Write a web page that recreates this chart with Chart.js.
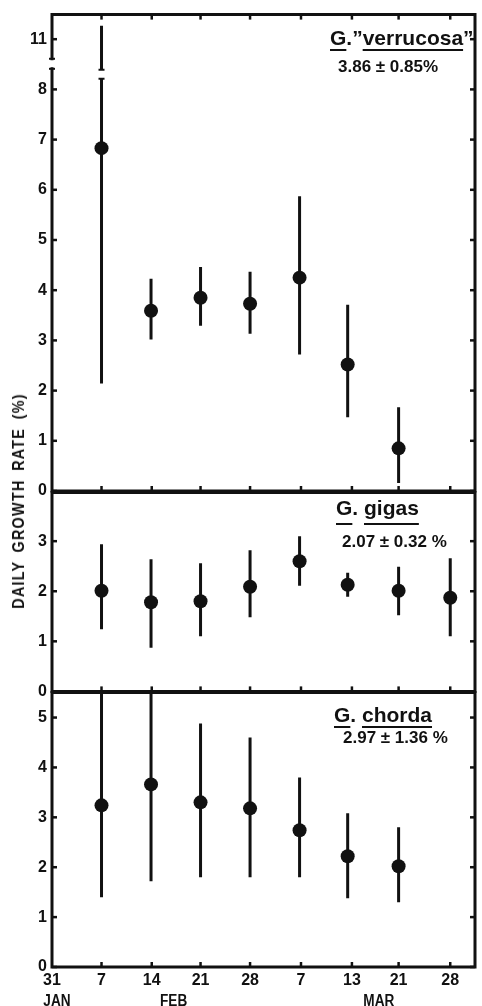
<!DOCTYPE html>
<html lang="en">
<head>
  <meta charset="UTF-8" />
  <title>Daily growth rate - Gracilaria</title>
  <script src="https://cdn.jsdelivr.net/npm/chart.js"></script>
  <style>
    body { margin: 0; background: #fff; }
    .figure { position: relative; width: 482px; height: 1006px; overflow: hidden; }
    .figure canvas { position: absolute; left: 0; }
    #p1 { top: 0; }
    #p2 { top: 478px; }
    #p3 { top: 678px; }
    .ytitle {
      position: absolute; left: 19px; top: 501px;
      font: bold 17px 'Liberation Sans', Arial, sans-serif;
      letter-spacing: 1.4px; word-spacing: 4px;
      white-space: nowrap; color: #111;
      transform: translate(-50%, -50%) rotate(-90deg) scaleX(0.85);
    }
  </style>
</head>
<body>
  <div class="figure">
    <canvas id="p1" width="482" height="506"></canvas>
    <canvas id="p2" width="482" height="228"></canvas>
    <canvas id="p3" width="482" height="328"></canvas>
    <div class="ytitle">DAILY GROWTH RATE (%)</div>
  </div>

  <script>
    const INK = '#111';
    const FONT = "'Liberation Sans', Arial, sans-serif";

    // x axis: days after 31 Jan
    const X_MAX = 59.8;
    const tickDays = [0, 7, 14.1, 21, 28, 35.2, 42.4, 49, 56.3];
    const tickLabels = ['31', '7', '14', '21', '28', '7', '13', '21', '28'];
    const monthLabels = ['JAN', 'FEB', 'MAR'];
    const monthDays = [0.7, 17.2, 46.2];
    const sampleDays = [7, 14, 21, 28, 35, 41.8, 49, 56.3];

    // G. "verrucosa" (axis broken between 8 and 11)
    const verrucosaMean = [6.83, 3.59, 3.85, 3.73, 4.25, 2.52, 0.85];
    const verrucosaLow  = [2.14, 3.02, 3.29, 3.13, 2.72, 1.47, 0.16];
    const verrucosaHigh = [11.27, 4.23, 4.46, 4.37, 5.87, 3.71, 1.67];
    const verrucosaTicks = [0, 1, 2, 3, 4, 5, 6, 7, 8, 11];

    // G. gigas
    const gigasMean = [2.01, 1.78, 1.80, 2.09, 2.60, 2.13, 2.01, 1.87];
    const gigasLow  = [1.24, 0.87, 1.10, 1.48, 2.11, 1.89, 1.52, 1.10];
    const gigasHigh = [2.94, 2.64, 2.56, 2.82, 3.10, 2.37, 2.49, 2.66];
    const gigasTicks = [0, 1, 2, 3];

    // G. chorda
    const chordaMean = [3.24, 3.66, 3.30, 3.18, 2.74, 2.22, 2.02];
    const chordaLow  = [1.40, 1.72, 1.80, 1.80, 1.80, 1.38, 1.30];
    const chordaHigh = [5.60, 5.60, 4.88, 4.60, 3.80, 3.08, 2.80];
    const chordaTicks = [0, 1, 2, 3, 4, 5];

    // values above the break are pulled down by 2 units on the top panel
    const brokenAxis = v => (v >= 10 ? v - 2 : v);
    const plainAxis = v => v;

    function seg(ctx, x1, y1, x2, y2) {
      ctx.beginPath(); ctx.moveTo(x1, y1); ctx.lineTo(x2, y2); ctx.stroke();
    }

    const errorBars = {
      id: 'errorBars',
      beforeDatasetsDraw(chart, args, o) {
        const { ctx, chartArea: a, scales: { x, y } } = chart;
        ctx.save();
        ctx.beginPath(); ctx.rect(a.left, a.top, a.width, a.height); ctx.clip();
        ctx.strokeStyle = INK;
        o.low.forEach((lo, i) => {
          const px = x.getPixelForValue(o.days[i]);
          const hi = o.map(o.high[i]);
          ctx.lineWidth = 3;
          if (o.cut && hi > o.cut[1]) {
            const c0 = y.getPixelForValue(o.cut[0]), c1 = y.getPixelForValue(o.cut[1]);
            seg(ctx, px, y.getPixelForValue(lo), px, c0);
            seg(ctx, px, c1, px, y.getPixelForValue(hi));
            ctx.lineWidth = 2;
            seg(ctx, px - 3, c0, px + 3, c0);
            seg(ctx, px - 3, c1, px + 3, c1);
          } else {
            seg(ctx, px, y.getPixelForValue(lo), px, y.getPixelForValue(hi));
          }
        });
        ctx.restore();
      }
    };

    const frame = {
      id: 'frame',
      afterDatasetsDraw(chart, args, o) {
        const { ctx, chartArea: a, scales: { x, y } } = chart;
        ctx.save();
        ctx.strokeStyle = INK;
        ctx.lineWidth = 3;
        ctx.lineCap = 'square';
        ctx.beginPath();
        ctx.moveTo(a.left, a.top);
        ctx.lineTo(a.right, a.top);
        ctx.lineTo(a.right, a.bottom);
        ctx.lineTo(a.left, a.bottom);
        if (o.gap) {
          const g0 = y.getPixelForValue(o.gap[0]), g1 = y.getPixelForValue(o.gap[1]);
          ctx.lineTo(a.left, g0);
          ctx.moveTo(a.left, g1);
          ctx.lineTo(a.left, a.top);
          ctx.stroke();
          ctx.lineWidth = 2;
          ctx.lineCap = 'butt';
          seg(ctx, a.left - 3, g0, a.left + 3, g0);
          seg(ctx, a.left - 3, g1, a.left + 3, g1);
        } else {
          ctx.lineTo(a.left, a.top);
          ctx.stroke();
        }
        // inward tick marks
        ctx.lineWidth = 2.5;
        ctx.lineCap = 'butt';
        tickDays.slice(1).forEach(d => {
          const px = x.getPixelForValue(d);
          seg(ctx, px, a.bottom, px, a.bottom - 5);
          if (o.topTicks) seg(ctx, px, a.top, px, a.top + 5);
        });
        y.ticks.forEach(t => {
          const py = y.getPixelForValue(t.value);
          seg(ctx, a.left, py, a.left + 5, py);
          seg(ctx, a.right, py, a.right - 5, py);
        });
        ctx.restore();
      }
    };

    const speciesLabel = {
      id: 'speciesLabel',
      afterDraw(chart, args, o) {
        const { ctx } = chart;
        ctx.save();
        ctx.fillStyle = INK;
        ctx.textAlign = 'left';
        ctx.textBaseline = 'alphabetic';
        ctx.font = `bold 21px ${FONT}`;
        let cx = o.x;
        o.parts.forEach(([t, underline]) => {
          const w = ctx.measureText(t).width;
          ctx.fillText(t, cx, o.y);
          if (underline) ctx.fillRect(cx, o.y + o.ul, w, 2);
          cx += w;
        });
        ctx.font = `bold 17px ${FONT}`;
        ctx.fillText(o.stats, o.sx, o.sy);
        ctx.restore();
      }
    };

    const months = {
      id: 'months',
      afterDraw(chart, args, o) {
        if (!o.show) return;
        const { ctx, scales: { x } } = chart;
        ctx.save();
        ctx.fillStyle = INK;
        ctx.font = `bold 16px ${FONT}`;
        ctx.textAlign = 'center';
        ctx.textBaseline = 'alphabetic';
        monthLabels.forEach((m, i) => {
          ctx.save();
          ctx.translate(x.getPixelForValue(monthDays[i]), chart.height);
          ctx.scale(0.85, 1);
          ctx.fillText(m, 0, 0);
          ctx.restore();
        });
        ctx.restore();
      }
    };

    function makePanel(id, p) {
      const showX = !!p.showX;
      return new Chart(document.getElementById(id), {
        type: 'scatter',
        data: {
          datasets: [{
            data: p.mean.map((m, i) => ({ x: sampleDays[i], y: p.map(m) })),
            pointRadius: 7,
            pointBackgroundColor: INK,
            pointBorderWidth: 0
          }]
        },
        options: {
          responsive: false,
          animation: false,
          events: [],
          layout: { padding: p.padding },
          plugins: {
            legend: { display: false },
            tooltip: { enabled: false },
            errorBars: { days: sampleDays, low: p.low, high: p.high, map: p.map, cut: p.cut },
            frame: { gap: p.gap, topTicks: p.topTicks },
            speciesLabel: p.label,
            months: { show: showX }
          },
          scales: {
            x: {
              type: 'linear', min: 0, max: X_MAX,
              display: showX,
              grid: { display: false, drawTicks: false },
              border: { display: false },
              afterBuildTicks: s => { s.ticks = tickDays.map(v => ({ value: v })); },
              afterFit: s => { if (showX) s.height = 39; },
              ticks: {
                autoSkip: false, maxRotation: 0, padding: 4, color: INK,
                font: { family: FONT, size: 16, weight: 'bold' },
                callback: (v, i) => tickLabels[i]
              }
            },
            y: {
              type: 'linear', min: 0, max: p.max,
              grid: { display: false, drawTicks: false },
              border: { display: false },
              afterBuildTicks: s => { s.ticks = p.ticks.map(v => ({ value: p.map(v) })); },
              afterFit: s => { s.width = 52; },
              ticks: {
                padding: 5, color: INK,
                font: { family: FONT, size: 16, weight: 'bold' },
                callback: (v, i) => String(p.ticks[i])
              }
            }
          }
        },
        plugins: [errorBars, frame, speciesLabel, months]
      });
    }

    makePanel('p1', {
      mean: verrucosaMean, low: verrucosaLow, high: verrucosaHigh, ticks: verrucosaTicks,
      map: brokenAxis, max: 9.49, gap: [8.41, 8.61], cut: [8.21, 8.39], topTicks: true,
      padding: { top: 13, bottom: 15, left: 0, right: 3 },
      label: {
        parts: [['G', true], ['.\u201D', false], ['verrucosa', true], ['\u201D', false]],
        x: 330, y: 45, ul: 4, stats: '3.86 \u00B1 0.85%', sx: 338, sy: 72
      }
    });

    makePanel('p2', {
      mean: gigasMean, low: gigasLow, high: gigasHigh, ticks: gigasTicks,
      map: plainAxis, max: 3.97,
      padding: { top: 13, bottom: 14, left: 0, right: 3 },
      label: {
        parts: [['G', true], ['. ', false], ['gigas', true]],
        x: 336, y: 37, ul: 8, stats: '2.07 \u00B1 0.32 %', sx: 342, sy: 69
      }
    });

    makePanel('p3', {
      mean: chordaMean, low: chordaLow, high: chordaHigh, ticks: chordaTicks,
      map: plainAxis, max: 5.5, showX: true,
      padding: { top: 14, bottom: 0, left: 0, right: 3 },
      label: {
        parts: [['G', true], ['. ', false], ['chorda', true]],
        x: 334, y: 44, ul: 4, stats: '2.97 \u00B1 1.36 %', sx: 343, sy: 65
      }
    });
  </script>
</body>
</html>
